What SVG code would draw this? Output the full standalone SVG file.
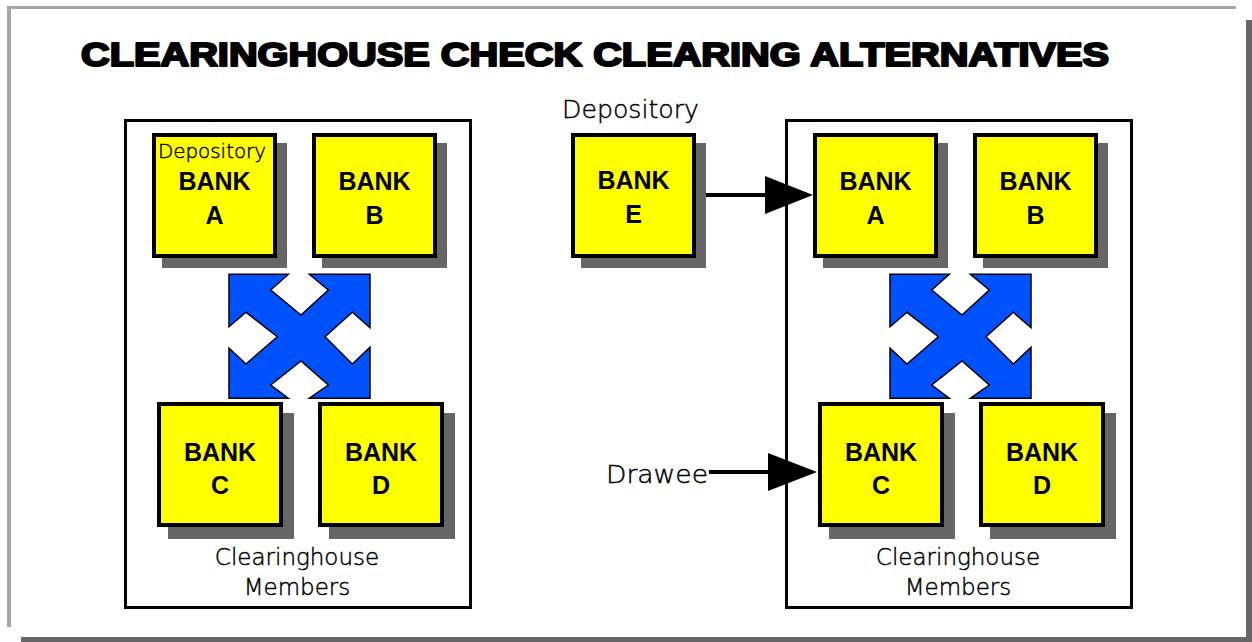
<svg xmlns="http://www.w3.org/2000/svg" width="1252" height="642" viewBox="0 0 1252 642">
<style>
.bank{fill:#ffff00;stroke:#000;stroke-width:4}
.shadow{fill:#666666}
.bt{font-family:"Liberation Sans",Arial,sans-serif;font-weight:bold;font-size:25px;fill:#000;text-anchor:middle}
.lt{font-family:"DejaVu Sans","Liberation Sans",sans-serif;font-weight:200;fill:#000;stroke:#000;stroke-width:0.45}
.panel{fill:#fff;stroke:#000;stroke-width:3}
.x4{fill:#0052ff;stroke:#000;stroke-width:1.5;stroke-linejoin:miter}
.conn{stroke:#000;stroke-width:4;fill:none}
.head{fill:#000}
</style>
<defs>
<path id="xarrow" d="M0,0 L59.3,0 L41.7,15.7 L72,40.7 L99.3,15.7 L80.3,0 L141,0 L141,53.4 L123.3,38 L96,62.4 L123.3,89.7 L141,73 L141,124 L80.3,124 L99.3,110.7 L72,86.7 L41.7,110.7 L59.3,124 L0,124 L0,74 L17,89.7 L48.3,62.4 L17,38 L0,52.4 Z"/>
</defs>
<rect width="1252" height="642" fill="#fff"/>
<g id="frame">
<rect x="7" y="6" width="1229" height="3" fill="#a6a6a6"/>
<rect x="7" y="6" width="4" height="621" fill="#a6a6a6"/>
<rect x="21" y="637" width="1231" height="5" fill="#666666"/>
<rect x="1246" y="20" width="6" height="622" fill="#666666"/>
</g>
<g id="title">
<text x="81" y="66" font-family="'Liberation Sans',Arial,sans-serif" font-weight="900" font-size="34" fill="#000" stroke="#000" stroke-width="2.2" stroke-linejoin="round" textLength="1028" lengthAdjust="spacingAndGlyphs">CLEARINGHOUSE CHECK CLEARING ALTERNATIVES</text>
</g>
<g id="panel-left">
<rect class="panel" x="125.5" y="120.5" width="345" height="487"/>
<text class="lt" x="297" y="565" font-size="23" text-anchor="middle">Clearinghouse</text>
<text class="lt" x="297" y="595" font-size="23" text-anchor="middle">Members</text>
</g>
<g id="panel-right">
<rect class="panel" x="786.5" y="120.5" width="345" height="487"/>
<text class="lt" x="958" y="565" font-size="23" text-anchor="middle">Clearinghouse</text>
<text class="lt" x="958" y="595" font-size="23" text-anchor="middle">Members</text>
</g>
<g id="exchange-left"><use href="#xarrow" class="x4" x="229" y="274.3"/></g>
<g id="exchange-right"><use href="#xarrow" class="x4" x="890" y="274.3"/></g>
<g id="connectors">
<line class="conn" x1="696" y1="195" x2="770" y2="195"/>
<polygon class="head" points="765,176 813,195 765,214"/>
<line class="conn" x1="709" y1="472" x2="772" y2="472"/>
<polygon class="head" points="768,453 817,472 768,491"/>
</g>
<g id="bank-left-a">
<rect class="shadow" x="162" y="143" width="125" height="125"/>
<rect class="bank" x="154" y="135" width="121" height="121"/>
<text class="lt" x="158" y="158" font-size="20" textLength="108" lengthAdjust="spacingAndGlyphs">Depository</text>
<text class="bt" x="214.5" y="190">BANK</text>
<text class="bt" x="214.5" y="224">A</text>
</g>
<g id="bank-left-b">
<rect class="shadow" x="322" y="143" width="125" height="125"/>
<rect class="bank" x="314" y="135" width="121" height="121"/>
<text class="bt" x="374.5" y="190">BANK</text>
<text class="bt" x="374.5" y="224">B</text>
</g>
<g id="bank-left-c">
<rect class="shadow" x="168" y="413" width="126" height="126"/>
<rect class="bank" x="159" y="404" width="122" height="121"/>
<text class="bt" x="220" y="461">BANK</text>
<text class="bt" x="220" y="494">C</text>
</g>
<g id="bank-left-d">
<rect class="shadow" x="329" y="413" width="126" height="126"/>
<rect class="bank" x="320" y="404" width="122" height="121"/>
<text class="bt" x="381" y="461">BANK</text>
<text class="bt" x="381" y="494">D</text>
</g>
<g id="bank-e">
<text class="lt" x="562" y="118" font-size="25" textLength="137" lengthAdjust="spacingAndGlyphs">Depository</text>
<rect class="shadow" x="581" y="143" width="125" height="125"/>
<rect class="bank" x="573" y="135" width="121" height="121"/>
<text class="bt" x="633.5" y="189">BANK</text>
<text class="bt" x="633.5" y="223">E</text>
</g>
<g id="drawee-label">
<text class="lt" x="606" y="483" font-size="25" textLength="102" lengthAdjust="spacingAndGlyphs">Drawee</text>
</g>
<g id="bank-right-a">
<rect class="shadow" x="823" y="143" width="125" height="125"/>
<rect class="bank" x="815" y="135" width="121" height="121"/>
<text class="bt" x="875.5" y="190">BANK</text>
<text class="bt" x="875.5" y="224">A</text>
</g>
<g id="bank-right-b">
<rect class="shadow" x="983" y="143" width="125" height="125"/>
<rect class="bank" x="975" y="135" width="121" height="121"/>
<text class="bt" x="1035.5" y="190">BANK</text>
<text class="bt" x="1035.5" y="224">B</text>
</g>
<g id="bank-right-c">
<rect class="shadow" x="829" y="413" width="126" height="126"/>
<rect class="bank" x="820" y="404" width="122" height="121"/>
<text class="bt" x="881" y="461">BANK</text>
<text class="bt" x="881" y="494">C</text>
</g>
<g id="bank-right-d">
<rect class="shadow" x="990" y="413" width="126" height="126"/>
<rect class="bank" x="981" y="404" width="122" height="121"/>
<text class="bt" x="1042" y="461">BANK</text>
<text class="bt" x="1042" y="494">D</text>
</g>
</svg>
